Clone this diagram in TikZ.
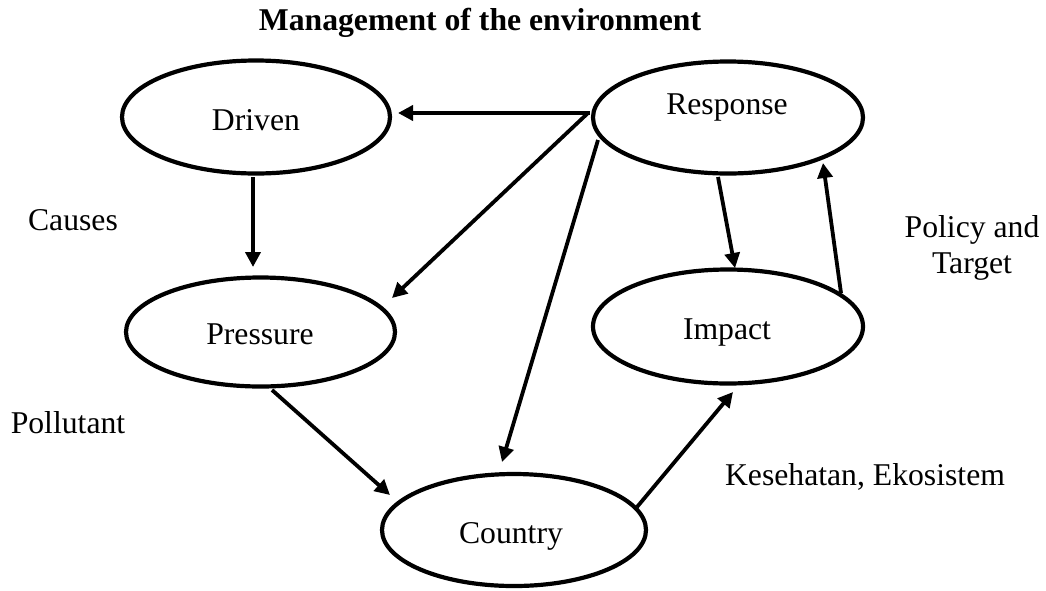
\documentclass[tikz,border=0pt]{standalone}
\usepackage{fontspec}
\setmainfont{Liberation Serif}
\usetikzlibrary{arrows.meta,calc,shapes.geometric}
\begin{document}
\begin{tikzpicture}[x=1pt,y=-1pt,
  ell/.style={draw,ellipse,line width=4.2pt,inner sep=0pt},
  arr/.style={line width=3.8pt,-{Triangle[length=15pt,width=15pt]}},
  txt/.style={font=\fontsize{31.7}{36}\selectfont,inner sep=0pt,anchor=base},
  ttl/.style={font=\fontsize{31.7}{36}\selectfont\bfseries,inner sep=0pt,anchor=base}]
\useasboundingbox (0,0) rectangle (1046,590);
% ellipses
\node[ell,minimum width=268pt,minimum height=113pt] (driven) at (256,117) {};
\node[ell,minimum width=270pt,minimum height=112pt] (response) at (728,117.5) {};
\node[ell,minimum width=269pt,minimum height=109pt] (pressure) at (260.5,332) {};
\node[ell,minimum width=270pt,minimum height=114pt] (impact) at (728,326.5) {};
\node[ell,minimum width=264pt,minimum height=112pt] (country) at (514,530) {};
% texts
\node[ttl] (title) at (480,30) {Management of the environment};
\node[txt] (tdriven) at (256,130) {Driven};
\node[txt] (tresponse) at (727,114) {Response};
\node[txt] (tpressure) at (260,344) {Pressure};
\node[txt] (timpact) at (727,339) {Impact};
\node[txt] (tcountry) at (511,543) {Country};
\node[txt] (causes) at (73,230) {Causes};
\node[txt] (pollutant) at (68,433) {Pollutant};
\node[txt,anchor=north,align=center] (policy) at (972,215.5) {Policy and\\Target};
\node[txt] (kes) at (865,485) {Kesehatan, Ekosistem};
% arrows
\draw[arr] ($(response)+(-138,-4.5)$) -- ($(driven)+(142,-4)$);
\draw[arr] ($(driven)+(-3,60)$) -- ($(pressure)+(-7.5,-65)$);
\draw[arr] ($(response)+(-140,-4.5)$) -- ($(pressure)+(131.5,-34)$);
\draw[arr] ($(response)+(-130,22.5)$) -- ($(country)+(-12,-68)$);
\draw[arr] ($(response)+(-10,59.5)$) -- ($(impact)+(7,-58.5)$);
\draw[arr] ($(impact)+(113,-33.5)$) -- ($(response)+(95,45.5)$);
\draw[arr] ($(pressure)+(11.5,58)$) -- ($(country)+(-124,-35)$);
\draw[arr] ($(country)+(123,-23)$) -- ($(impact)+(5,65.5)$);
\end{tikzpicture}
\end{document}
